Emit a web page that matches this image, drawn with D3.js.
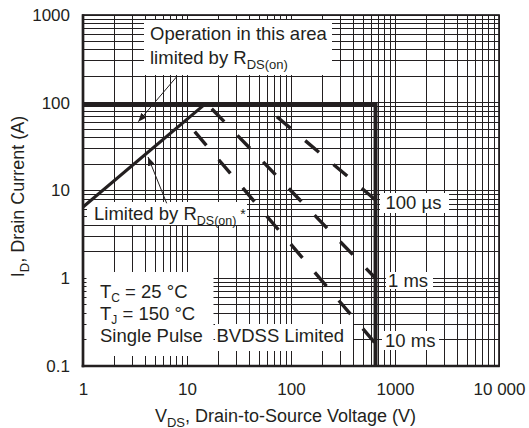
<!DOCTYPE html>
<html>
<head>
<meta charset="utf-8">
<script src="https://cdn.jsdelivr.net/npm/d3@7"></script>
<style>
  body { margin: 0; background: #fff; }
  text { font-family: "Liberation Sans", Arial, Helvetica, sans-serif; fill: #231f20; }
</style>
</head>
<body>
<div id="chart"></div>
<script>
// values
const xTicks = [1, 10, 100, 1000, 10000];
const xTickLabels = ["1", "10", "100", "1000", "10 000"];
const yTicks = [0.1, 1, 10, 100, 1000];
const yTickLabels = ["0.1", "1", "10", "100", "1000"];

const currentLimit = [[1, 94], [650, 94], [650, 0.1]];   // package limit, then BVDSS
const rdsLimit = [[1, 6.5], [14.5, 94]];
const pulse100us = [[54, 94], [650, 7.8]];
const pulse1ms = [[16, 94], [650, 1.0]];
const pulse10ms = [[9.7, 62], [650, 0.18]];
const arrowOperation = [[7.96, 198], [3.4, 60.8]];
const arrowLimited = [[6.38, 7.15], [4.22, 24.1]];

const width = 529, height = 428;
const margin = { top: 15, right: 30, bottom: 62, left: 83 };
const ink = "#231f20";

const svg = d3.select("#chart").append("svg")
  .attr("width", width)
  .attr("height", height);

const x = d3.scaleLog().domain([1, 10000]).range([margin.left, width - margin.right]);
const y = d3.scaleLog().domain([0.1, 1000]).range([height - margin.bottom, margin.top]);

// full log grid
const grid = svg.append("g")
  .attr("stroke", ink)
  .attr("stroke-width", 1)
  .attr("shape-rendering", "crispEdges");
grid.selectAll(".v").data(x.ticks()).enter().append("line")
  .attr("class", "v")
  .attr("x1", d => x(d)).attr("x2", d => x(d))
  .attr("y1", y(1000)).attr("y2", y(0.1));
grid.selectAll(".h").data(y.ticks()).enter().append("line")
  .attr("class", "h")
  .attr("y1", d => y(d)).attr("y2", d => y(d))
  .attr("x1", x(1)).attr("x2", x(10000));

// white label backgrounds (hide grid behind text)
const boxes = [
  [144, 20, 188, 55],   // operation in this area
  [87, 202, 160, 23],   // limited by rds
  [86.5, 272, 127, 84], // Tc / Tj / single pulse
  [215, 324, 138, 27],  // BVDSS limited
  [380, 193, 69, 20],   // 100 us
  [386, 272, 47, 17],   // 1 ms
  [382, 331, 57, 19]    // 10 ms
];
svg.append("g").selectAll("rect").data(boxes).enter().append("rect")
  .attr("x", d => d[0]).attr("y", d => d[1])
  .attr("width", d => d[2]).attr("height", d => d[3])
  .attr("fill", "#fff");

const line = d3.line().x(d => x(d[0])).y(d => y(d[1]));

svg.append("path").datum(currentLimit)
  .attr("d", line)
  .attr("fill", "none").attr("stroke", ink).attr("stroke-width", 4)
  .attr("stroke-linejoin", "miter");

svg.append("path").datum(rdsLimit)
  .attr("d", line)
  .attr("fill", "none").attr("stroke", ink).attr("stroke-width", 3.2);

const pulses = [
  { data: pulse100us, offset: 19 },
  { data: pulse1ms, offset: 32 },
  { data: pulse10ms, offset: 23 }
];
svg.append("g").selectAll("path").data(pulses).enter().append("path")
  .attr("d", d => line(d.data))
  .attr("fill", "none").attr("stroke", ink).attr("stroke-width", 3.4)
  .attr("stroke-dasharray", "18,19")
  .attr("stroke-dashoffset", d => d.offset);

// frame
svg.append("rect")
  .attr("x", x(1)).attr("y", y(1000))
  .attr("width", x(10000) - x(1)).attr("height", y(0.1) - y(1000))
  .attr("fill", "none").attr("stroke", ink).attr("stroke-width", 1.7);
svg.append("line")
  .attr("x1", x(1)).attr("x2", x(1)).attr("y1", y(1000) - 0.8).attr("y2", y(0.1) + 1.3)
  .attr("stroke", ink).attr("stroke-width", 2.7);
svg.append("line")
  .attr("x1", x(1) - 1.3).attr("x2", x(10000) + 0.8).attr("y1", y(0.1)).attr("y2", y(0.1))
  .attr("stroke", ink).attr("stroke-width", 2.5);

// arrows
svg.append("defs").append("marker")
  .attr("id", "head")
  .attr("viewBox", "0 0 10 8")
  .attr("refX", 10).attr("refY", 4)
  .attr("markerUnits", "userSpaceOnUse")
  .attr("markerWidth", 9).attr("markerHeight", 7)
  .attr("orient", "auto")
  .append("path").attr("d", "M0,0L10,4L0,8Z").attr("fill", ink);

svg.append("g").selectAll("path").data([arrowOperation, arrowLimited]).enter().append("path")
  .attr("d", line)
  .attr("fill", "none").attr("stroke", ink).attr("stroke-width", 1)
  .attr("marker-end", "url(#head)");

// axes (labels only, grid is the ticks)
const gx = svg.append("g")
  .attr("transform", `translate(0,${y(0.1)})`)
  .call(d3.axisBottom(x).tickValues(xTicks).tickFormat((d, i) => xTickLabels[i]).tickSize(0))
  .attr("font-size", 17);
gx.select(".domain").remove();
gx.selectAll("text").attr("y", 29).attr("dy", 0);

const gy = svg.append("g")
  .attr("transform", `translate(${x(1)},0)`)
  .call(d3.axisLeft(y).tickValues(yTicks).tickFormat((d, i) => yTickLabels[i]).tickSize(0).tickPadding(13))
  .attr("font-size", 17);
gy.select(".domain").remove();

// text with sub / superscripts
function rich(x0, y0, parts, size, anchor) {
  const t = svg.append("text")
    .attr("x", x0).attr("y", y0)
    .attr("font-size", size)
    .attr("text-anchor", anchor || "start");
  let shift = 0;
  parts.forEach(p => {
    const target = p.sub ? p.sub : 0;
    const s = t.append("tspan").text(p.t).attr("dy", target - shift);
    if (p.size) s.attr("font-size", p.size);
    shift = target;
  });
  return t;
}

rich(150, 39.5, [{ t: "Operation in this area" }], 18.5);
rich(150, 63.5, [{ t: "limited by R" }, { t: "DS(on)", sub: 5.5, size: 13 }], 18.5);
rich(94, 220, [{ t: "Limited by R" }, { t: "DS(on)", sub: 4.5, size: 12.5 }, { t: " *", sub: -1, size: 14 }], 18.5);
rich(100, 298, [{ t: "T" }, { t: "C", sub: 4, size: 12 }, { t: " = 25 °C" }], 18.5);
rich(100, 320, [{ t: "T" }, { t: "J", sub: 3.5, size: 12 }, { t: " = 150 °C" }], 18.5);
rich(100, 341.5, [{ t: "Single Pulse" }], 18.5);
rich(216.5, 341.5, [{ t: "BVDSS Limited" }], 18.5);
rich(385.5, 209, [{ t: "100 µs" }], 18.5);
rich(388, 286.5, [{ t: "1 ms" }], 18.5);
rich(385, 346.5, [{ t: "10 ms" }], 18.5);

rich(285.5, 421.5, [{ t: "V" }, { t: "DS", sub: 5, size: 13 }, { t: ", Drain-to-Source Voltage (V)" }], 18, "middle");
rich(0, 0, [{ t: "I" }, { t: "D", sub: 5, size: 13 }, { t: ", Drain Current (A)" }], 18, "middle")
  .attr("transform", `translate(24,196.5) rotate(-90)`);
</script>
</body>
</html>
